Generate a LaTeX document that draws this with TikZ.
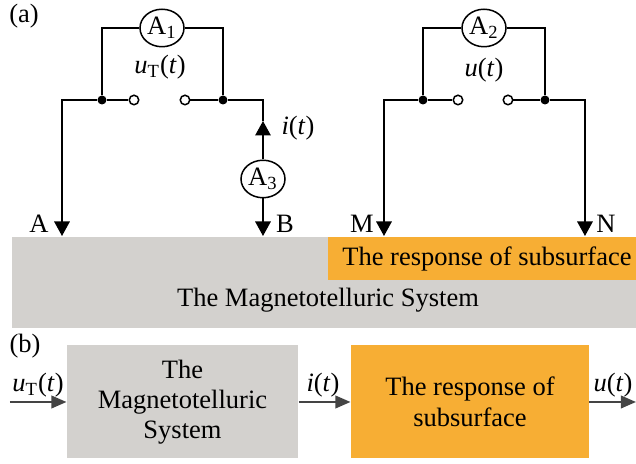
\documentclass[tikz,border=0pt]{standalone}
\usepackage{fontspec}
\setmainfont{Liberation Serif}
\usetikzlibrary{shapes.geometric,arrows.meta,positioning}
\definecolor{mtgray}{RGB}{211,209,206}
\definecolor{resporange}{RGB}{247,174,52}
\definecolor{flowgray}{RGB}{68,68,68}

\begin{document}
\begin{tikzpicture}[
  x=0.4pt, y=-0.4pt,
  every node/.style={font=\fontsize{10.6}{12.5}\selectfont},
  wire/.style={line width=0.6pt, black},
  probe/.style={wire, -{Triangle[length=5.8pt,width=6.2pt]}},
  meter/.style={draw, ellipse, line width=0.6pt, fill=white, minimum width=17.6pt, minimum height=15pt, inner sep=0pt},
  joint/.style={circle, fill=black, minimum size=3.6pt, inner sep=0pt},
  term/.style={circle, draw, fill=white, line width=0.6pt, minimum size=3.8pt, inner sep=0pt},
  block/.style={minimum width=92.4pt, minimum height=45.2pt, align=center, inner sep=0pt},
  flow/.style={-{Triangle[length=6pt,width=5pt]}, line width=0.8pt, flowgray},
]
\useasboundingbox (0,0) rectangle (636,464);

% Ground bands
\fill[mtgray] (12,237) rectangle (636,328);
\fill[resporange] (328,237) rectangle (636,280);
\node (bandsub) at (487,259) {The response of subsurface};
\node (bandmt) at (328,300) {The Magnetotelluric System};

% Left circuit (transmitter)
\node (lbla) at (24,16) {(a)};
\node[meter] (A1) at (162,28) {A\textsubscript{1}};
\node[joint] (jA) at (102,100) {};
\node[joint] (jB) at (223,100) {};
\node[term] (tA) at (134,100) {};
\node[term] (tB) at (185,100) {};
\node[meter] (A3) at (263,179) {A\textsubscript{3}};
\coordinate (cA) at (62,100);
\coordinate (cB) at (263,100);
\coordinate (pA) at (62,236);
\coordinate (pB) at (263,236);
\coordinate (iTip) at (263,121);

\draw[wire] (jA) |- (A1.west);
\draw[wire] (A1.east) -| (jB);
\draw[wire] (jA) -- (tA);
\draw[wire] (tB) -- (jB);
\draw[probe] (jA) -- (cA) -- (pA);
\draw[wire] (jB) -- (cB) -- (iTip);
\draw[probe] (A3) -- (iTip);
\draw[probe] (A3) -- (pB);

\node (uT) at (160,67) {\textit{u}\textsubscript{T}(\textit{t})};
\node (it) at (298,128) {\textit{i}(\textit{t})};
\node (lA) at (39,224) {A};
\node (lB) at (285,224) {B};

% Right circuit (receiver)
\node[meter] (A2) at (484,28) {A\textsubscript{2}};
\node[joint] (jM) at (423,100) {};
\node[joint] (jN) at (545,100) {};
\node[term] (tM) at (458,100) {};
\node[term] (tN) at (508,100) {};
\coordinate (cM) at (384,100);
\coordinate (cN) at (585,100);
\coordinate (pM) at (384,236);
\coordinate (pN) at (585,236);

\draw[wire] (jM) |- (A2.west);
\draw[wire] (A2.east) -| (jN);
\draw[wire] (jM) -- (tM);
\draw[wire] (tN) -- (jN);
\draw[probe] (jM) -- (cM) -- (pM);
\draw[probe] (jN) -- (cN) -- (pN);

\node (u) at (484,70) {\textit{u}(\textit{t})};
\node (lM) at (362,224) {M};
\node (lN) at (606,224) {N};

% Block diagram
\node (lblb) at (25,346) {(b)};
\node[block, fill=mtgray, font=\fontsize{10.6}{12}\selectfont] (mtbox) at (182.5,402) {The\\Magnetotelluric\\System};
\node[block, fill=resporange, minimum width=95.2pt] (subbox) at (470,402) {The response of\\subsurface};
\coordinate (inU) at (10,402);
\coordinate (outU) at (636,402);

\draw[flow] (inU) -- (mtbox);
\draw[flow] (mtbox) -- (subbox);
\draw[flow] (subbox) -- (outU);

\node (fuT) at (38,385) {\textit{u}\textsubscript{T}(\textit{t})};
\node (fi) at (323,385) {\textit{i}(\textit{t})};
\node (fu) at (613,385) {\textit{u}(\textit{t})};

\end{tikzpicture}
\end{document}
